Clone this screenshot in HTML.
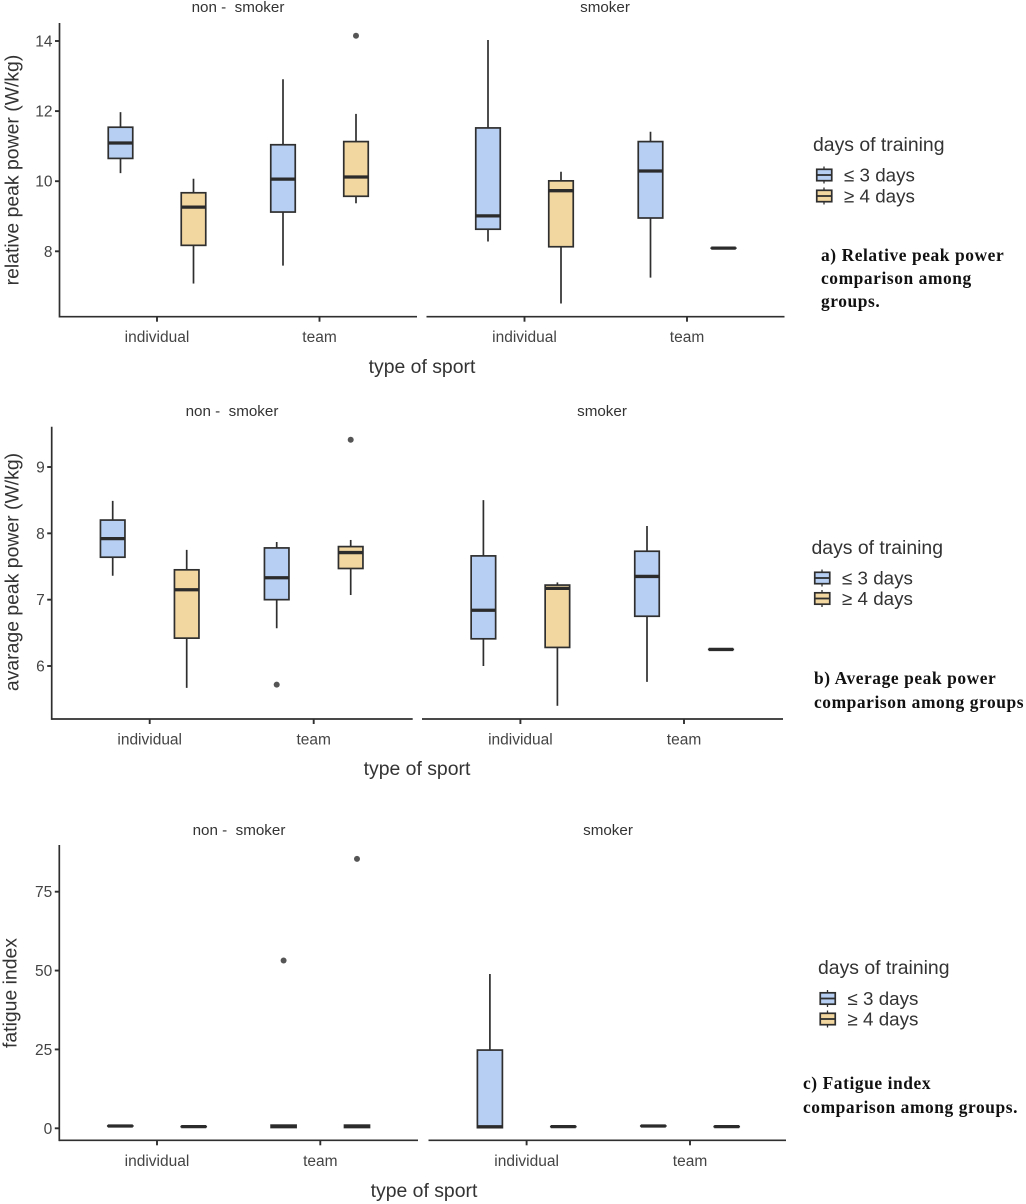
<!DOCTYPE html>
<html lang="en">
<head>
<meta charset="utf-8">
<title>Peak power and fatigue comparison</title>
<style>
html,body{margin:0;padding:0;background:#fff;}
svg{display:block;font-family:"Liberation Sans",sans-serif;}
.axis-title{font-size:19.4px;fill:#333;}
.caption{font-family:"Liberation Serif",serif;font-weight:bold;font-size:17.4px;fill:#111;letter-spacing:.58px;}
</style>
</head>
<body>
<svg id="figure" xmlns="http://www.w3.org/2000/svg" width="1026" height="1204" viewBox="0 0 1026 1204">
  <rect width="1026" height="1204" fill="#fff"/>
  <text class="axis-title" x="422" y="373" text-anchor="middle">type of sport</text>
  <text class="axis-title" x="417" y="775" text-anchor="middle">type of sport</text>
  <text class="axis-title" x="424" y="1197" text-anchor="middle">type of sport</text>
  <text class="axis-title" transform="translate(18.5,170) rotate(-90)" text-anchor="middle">relative peak power (W/kg)</text>
  <text class="axis-title" transform="translate(18.5,572) rotate(-90)" text-anchor="middle">avarage peak power (W/kg)</text>
  <text class="axis-title" transform="translate(16.5,993) rotate(-90)" text-anchor="middle">fatigue index</text>

  <text class="axis-title" x="813" y="151">days of training</text>
  <text class="axis-title" x="811.5" y="554">days of training</text>
  <text class="axis-title" x="818" y="974">days of training</text>

  <g>
    <text class="caption" x="821" y="261">a) Relative peak power</text>
    <text class="caption" x="821" y="284">comparison among</text>
    <text class="caption" x="821" y="307">groups.</text>
  </g>
  <g>
    <text class="caption" x="814" y="684">b) Average peak power</text>
    <text class="caption" x="814" y="708">comparison among groups</text>
  </g>
  <g>
    <text class="caption" x="803" y="1089">c) Fatigue index</text>
    <text class="caption" x="803" y="1113">comparison among groups.</text>
  </g>
</svg>
<script>
// Shared categories. Stat arrays run: non-smoker individual (<=3, >=4), non-smoker team (<=3, >=4), smoker individual, smoker team.
const facetLabels = ['non -  smoker', 'smoker'];
const sportCategories = ['individual', 'team'];
const trainingGroups = ['≤ 3 days', '≥ 4 days'];

// Chart a: relative peak power
const relativeTicks = [8, 10, 12, 14];
const relativeLow = [10.23, 7.08, 7.59, 9.37, 8.28, 6.51, 7.25, 8.09];
const relativeQ1 = [10.65, 8.17, 9.12, 9.57, 8.63, 8.13, 8.95, 8.09];
const relativeMedian = [11.09, 9.26, 10.06, 10.12, 9.01, 9.73, 10.29, 8.09];
const relativeQ3 = [11.54, 9.67, 11.04, 11.13, 11.52, 10.01, 11.13, 8.09];
const relativeHigh = [11.97, 10.07, 12.91, 11.92, 14.03, 10.27, 11.41, 8.09];
const relativeOutlierGroup = [3];
const relativeOutlierValue = [14.15];

// Chart b: average peak power
const averageTicks = [6, 7, 8, 9];
const averageLow = [7.36, 5.67, 6.57, 7.07, 6.0, 5.40, 5.76, 6.25];
const averageQ1 = [7.64, 6.42, 7.0, 7.47, 6.41, 6.28, 6.75, 6.25];
const averageMedian = [7.92, 7.15, 7.33, 7.71, 6.84, 7.17, 7.35, 6.25];
const averageQ3 = [8.20, 7.45, 7.78, 7.80, 7.66, 7.22, 7.73, 6.25];
const averageHigh = [8.49, 7.75, 7.87, 7.90, 8.50, 7.26, 8.11, 6.25];
const averageOutlierGroup = [2, 3];
const averageOutlierValue = [5.72, 9.41];

// Chart c: fatigue index
const fatigueTicks = [0, 25, 50, 75];
const fatigueLow = [0.74, 0.53, 0.2, 0.2, 0.2, 0.53, 0.74, 0.53];
const fatigueQ1 = [0.74, 0.53, 0.25, 0.25, 0.2, 0.53, 0.74, 0.53];
const fatigueMedian = [0.74, 0.53, 0.6, 0.6, 0.5, 0.53, 0.74, 0.53];
const fatigueQ3 = [0.74, 0.53, 1.0, 1.0, 24.8, 0.53, 0.74, 0.53];
const fatigueHigh = [0.74, 0.53, 1.1, 1.1, 48.9, 0.53, 0.74, 0.53];
const fatigueOutlierGroup = [2, 3];
const fatigueOutlierValue = [53.2, 85.4];

const FILLS = ['#b7cff3', '#f3d7a0'];
const DARK = '#2f2f2f';
const NS = 'http://www.w3.org/2000/svg';
const svg = document.getElementById('figure');

function make(parent, tag, attrs) {
  const el = document.createElementNS(NS, tag);
  for (const k in attrs) el.setAttribute(k, attrs[k]);
  parent.appendChild(el);
  return el;
}

function drawChart(id, layout, ticks, low, q1, median, q3, high, outGroup, outValue) {
  const root = make(svg, 'g', {});
  
  

  const [d0, d1] = layout.yDomain;
  const [r0, r1] = layout.yRange;
  const y = v => r0 + (v - d0) * (r1 - r0) / (d1 - d0);
  const groupX = i => {
    const facet = Math.floor(i / 4);
    const cat = Math.floor(i / 2) % 2;
    const grp = i % 2;
    return layout.tickX[facet][cat] + (grp === 0 ? -layout.dodge : layout.dodge);
  };

  // axes
  const yAxis = make(root, 'line', {x1: layout.left, x2: layout.left, y1: layout.top, y2: layout.bottom + 0.85, stroke: DARK, 'stroke-width': 1.7});
  
  

  ticks.forEach(t => {
    const mark = make(root, 'line', {x1: layout.left - 4.5, x2: layout.left, y1: y(t), y2: y(t), stroke: DARK, 'stroke-width': 1.9});
    
    
    const label = make(root, 'text', {x: layout.left - 7, y: y(t) + 5.5, 'text-anchor': 'end', 'font-size': 15.5, fill: '#444'});
    label.textContent = t;
    
    
  });

  facetLabels.forEach((name, f) => {
    const axis = make(root, 'line', {x1: layout.xSpan[f][0], x2: layout.xSpan[f][1], y1: layout.bottom, y2: layout.bottom, stroke: DARK, 'stroke-width': 1.7});
    
    

    const strip = make(root, 'text', {x: layout.stripX[f], y: layout.stripY, 'text-anchor': 'middle', 'font-size': 15.2, fill: '#333', style: 'white-space:pre'});
    strip.textContent = name;
    
    

    sportCategories.forEach((cat, c) => {
      const tx = layout.tickX[f][c];
      const mark = make(root, 'line', {x1: tx, x2: tx, y1: layout.bottom, y2: layout.bottom + 5, stroke: DARK, 'stroke-width': 1.9});
      
      
      const label = make(root, 'text', {x: tx, y: layout.bottom + 25.5, 'text-anchor': 'middle', 'font-size': 15.5, fill: '#444'});
      label.textContent = cat;
      
      
    });
  });

  // boxes
  median.forEach((m, i) => {
    const cx = groupX(i);
    const g = make(root, 'g', {});
    
    
    make(g, 'line', {x1: cx, x2: cx, y1: y(high[i]), y2: y(low[i]), stroke: DARK, 'stroke-width': 1.7});
    make(g, 'rect', {x: cx - layout.boxW / 2, y: y(q3[i]), width: layout.boxW, height: Math.max(y(q1[i]) - y(q3[i]), 0.01), fill: FILLS[i % 2], stroke: DARK, 'stroke-width': 1.7});
    make(g, 'line', {x1: cx - layout.boxW / 2, x2: cx + layout.boxW / 2, y1: y(m), y2: y(m), stroke: '#2b2b2b', 'stroke-width': 3.3});
  });

  // outliers
  outValue.forEach((v, k) => {
    const dot = make(root, 'circle', {cx: groupX(outGroup[k]), cy: y(v), r: 3, fill: '#555'});
    
    
  });

  // legend
  trainingGroups.forEach((name, g) => {
    const ly = layout.legendY[g];
    const key = make(root, 'g', {});
    
    
    const kx = layout.legendX + 8;
    make(key, 'line', {x1: kx, x2: kx, y1: ly - 8.5, y2: ly + 8.5, stroke: DARK, 'stroke-width': 1.3});
    make(key, 'rect', {x: layout.legendX + 0.75, y: ly - 5.7, width: 15, height: 11.4, fill: FILLS[g], stroke: DARK, 'stroke-width': 1.7});
    make(key, 'line', {x1: layout.legendX + 0.75, x2: layout.legendX + 15.75, y1: ly, y2: ly, stroke: DARK, 'stroke-width': 1.8});
    const label = make(key, 'text', {x: layout.legendX + 28, y: ly + 6.3, 'font-size': 18.8, fill: '#333'});
    label.textContent = name;
  });
}

drawChart('a', {
  left: 59.5, top: 23, bottom: 316.7,
  yDomain: [8, 14], yRange: [251.3, 41],
  xSpan: [[59.5, 417], [426.5, 784.5]],
  tickX: [[157, 319.5], [524.5, 687]], dodge: 36.5, boxW: 24.5,
  stripX: [238, 605], stripY: 12,
  legendX: 816, legendY: [175, 196]
}, relativeTicks, relativeLow, relativeQ1, relativeMedian, relativeQ3, relativeHigh, relativeOutlierGroup, relativeOutlierValue);

drawChart('b', {
  left: 51.7, top: 426.7, bottom: 719,
  yDomain: [6, 9], yRange: [666, 467],
  xSpan: [[51.7, 412.7], [422, 783]],
  tickX: [[149.7, 313.7], [520.4, 684]], dodge: 37, boxW: 24.5,
  stripX: [232, 602], stripY: 416,
  legendX: 814, legendY: [578, 598.5]
}, averageTicks, averageLow, averageQ1, averageMedian, averageQ3, averageHigh, averageOutlierGroup, averageOutlierValue);

drawChart('c', {
  left: 59.3, top: 845, bottom: 1140.3,
  yDomain: [0, 75], yRange: [1128.3, 891.7],
  xSpan: [[59.3, 418], [428.5, 786]],
  tickX: [[157, 320.3], [526.6, 690]], dodge: 36.7, boxW: 25,
  stripX: [239, 608], stripY: 835,
  legendX: 819.5, legendY: [998.5, 1019]
}, fatigueTicks, fatigueLow, fatigueQ1, fatigueMedian, fatigueQ3, fatigueHigh, fatigueOutlierGroup, fatigueOutlierValue);
</script>
</body>
</html>
